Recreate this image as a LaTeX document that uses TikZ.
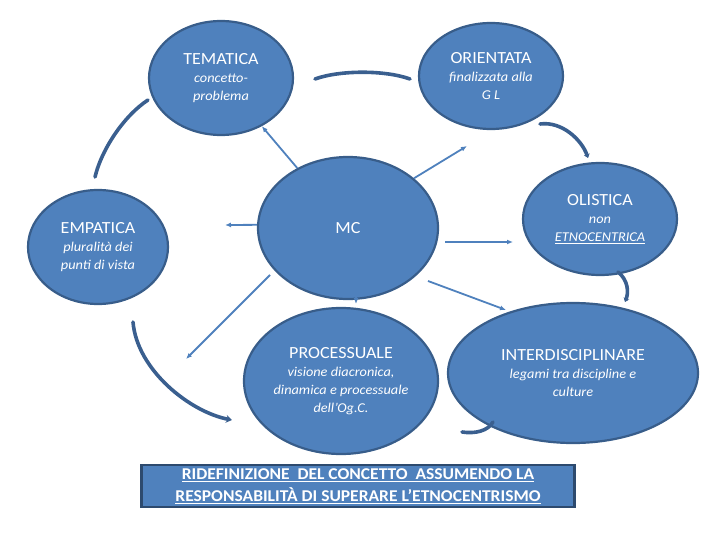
\documentclass[tikz,border=0pt]{standalone}
\usepackage{fontspec}
\setmainfont{Carlito}[FakeStretch=1.06]
\usetikzlibrary{shapes.geometric, arrows.meta}
\definecolor{bubblefill}{HTML}{4F81BD}
\definecolor{bubbleedge}{HTML}{385D8A}
\definecolor{curveblue}{HTML}{3A5F8F}
\newcommand{\gloss}[1]{{\fontsize{13.5}{15}\selectfont\itshape #1}}

\begin{document}
\begin{tikzpicture}[x=1pt, y=-1pt,
  bubble/.style={draw=bubbleedge,fill=bubblefill,ellipse,line width=2.2pt,inner sep=0pt,align=center,text=white,font=\fontsize{17}{18}\selectfont},
  ray/.style={-{Latex[length=6pt,width=5pt]},draw=bubblefill,line width=1.8pt},
  loopline/.style={draw=curveblue,line width=3.6pt,line cap=round},
  looparrow/.style={loopline,-{Stealth[length=4pt,width=6pt]}},
  banner/.style={draw=bubbleedge!80!black,fill=bubblefill,line width=2.5pt,minimum width=433pt,minimum height=42pt,align=center,text=white,font=\fontsize{16.5}{22}\selectfont\bfseries}
]
  \useasboundingbox (0,0) rectangle (720,540);
  \node[bubble,minimum width=144pt,minimum height=114pt] (tema) at (221,78) {TEMATICA\\ \gloss{concetto-}\\ \gloss{problema}};
  \node[bubble,minimum width=144pt,minimum height=106pt] (orient) at (491,76) {ORIENTATA\\ \gloss{finalizzata alla}\\ \gloss{G L}};
  \node[bubble,minimum width=140pt,minimum height=114pt] (emp) at (98,247) {EMPATICA\\ \gloss{pluralità dei}\\ \gloss{punti di vista}};
  \node[bubble,minimum width=180pt,minimum height=142pt] (mc) at (348,228) {MC};
  \node[bubble,minimum width=154pt,minimum height=112pt] (olis) at (600,219) {OLISTICA\\ \gloss{non}\\ \gloss{\underline{ETNOCENTRICA}}};
  \node[bubble,minimum width=194pt,minimum height=146pt] (proc) at (341,381) {PROCESSUALE\\ \gloss{visione diacronica,}\\ \gloss{dinamica e processuale}\\ \gloss{dell’Og.C.}};
  \node[bubble,minimum width=250pt,minimum height=140pt] (inter) at (573,373) {INTERDISCIPLINARE\\ \gloss{legami tra discipline e}\\ \gloss{culture}};
  \node[banner] (resp) at (358,486) {\underline{RIDEFINIZIONE\ \ DEL CONCETTO\ \ ASSUMENDO LA}\\ \underline{RESPONSABILITÀ DI SUPERARE L’ETNOCENTRISMO}};

  \coordinate (oTip) at (467,146);
  \coordinate (eTip) at (225,225);
  \coordinate (lTail) at (445,242); \coordinate (lTip) at (513,242);
  \coordinate (iTail) at (428,281); \coordinate (iTip) at (506,310);
  \coordinate (pTail) at (356,270); \coordinate (pTip) at (356,304);
  \coordinate (sTail) at (270,275); \coordinate (sTip) at (186,359);
  \draw[ray] (mc) -- (tema); \draw[ray] (mc.37) -- (oTip); \draw[ray] (mc.178) -- (eTip);
  \draw[ray] (lTail) -- (lTip); \draw[ray] (iTail) -- (iTip);
  \draw[ray] (pTail) -- (pTip); \draw[ray] (sTail) -- (sTip);

  \coordinate (a1) at (315,79); \coordinate (a2) at (410,79);
  \coordinate (b1) at (540,124); \coordinate (b2) at (588,158);
  \coordinate (c1) at (618,272); \coordinate (c2) at (625,302);
  \coordinate (d1) at (493,422); \coordinate (d2) at (462,432);
  \coordinate (e1) at (133,322); \coordinate (e2) at (232,420);
  \coordinate (f1) at (95,177); \coordinate (f2) at (148,100);
  \draw[loopline] (a1) .. controls (340,70) and (385,70) .. (a2);
  \draw[looparrow] (b1) .. controls (562,121) and (582,140) .. (b2);
  \draw[looparrow] (c1) .. controls (628,280) and (629,292) .. (c2);
  \draw[loopline] (d1) .. controls (488,431) and (475,434) .. (d2);
  \draw[loopline,-{Stealth[length=6pt,width=8pt]}] (e1) .. controls (137,370) and (190,412) .. (e2);
  \draw[loopline] (f1) .. controls (102,148) and (125,115) .. (f2);
\end{tikzpicture}
\end{document}
